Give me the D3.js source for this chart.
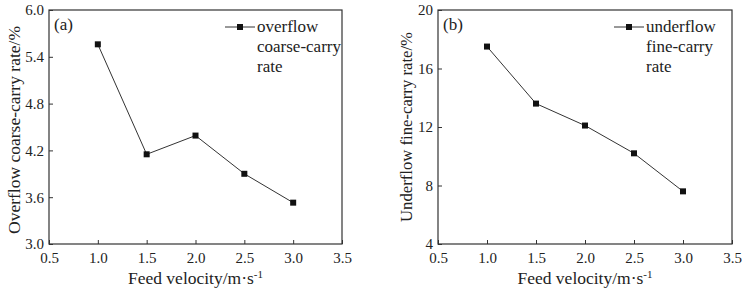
<!DOCTYPE html>
<html>
<head>
<meta charset="utf-8">
<script src="https://cdn.jsdelivr.net/npm/d3@7"></script>
<style>
  body { margin: 0; background: #fff; }
  svg, svg text { font-family: "Liberation Serif", "Times New Roman", serif !important; }
</style>
</head>
<body>
<div id="chart"></div>
<script>
// feed velocity (m/s)
const velocity = [1.0, 1.5, 2.0, 2.5, 3.0];
// panel (a): overflow coarse-carry rate, %
const overflowCoarse = [5.56, 4.15, 4.39, 3.90, 3.53];
// panel (b): underflow fine-carry rate, %
const underflowFine = [17.5, 13.6, 12.1, 10.2, 7.6];

const xTicks = [0.5, 1.0, 1.5, 2.0, 2.5, 3.0, 3.5];
const yTicksA = [3.0, 3.6, 4.2, 4.8, 5.4, 6.0];
const yTicksB = [4, 8, 12, 16, 20];

const W = 742, H = 292;
const svg = d3.select("#chart").append("svg")
  .attr("width", W).attr("height", H);

function panel(opt) {
  let x = d3.scaleLinear().domain([0.5, 3.5]).range([opt.left, opt.right]);
  let y = d3.scaleLinear().domain(opt.yDomain).range([244, 10]);
  const g = svg.append("g");

  g.append("g")
    .attr("transform", `translate(0,${y.range()[0]})`)
    .call(d3.axisBottom(x).tickValues(xTicks).tickFormat(d3.format(".1f")).tickSizeInner(-4).tickSizeOuter(0).tickPadding(8))
    .call(a => a.select(".domain").remove());
  g.append("g")
    .attr("transform", `translate(${opt.left},0)`)
    .call(d3.axisLeft(y).tickValues(opt.yTicks).tickFormat(opt.fmt).tickSizeInner(-4).tickSizeOuter(0).tickPadding(5))
    .call(a => a.select(".domain").remove());

  g.selectAll(".tick text").attr("font-size", 15).attr("fill", "#222");
  g.selectAll(".tick line").attr("stroke", "#333");

  // frame
  g.append("rect")
    .attr("x", opt.left).attr("y", 10)
    .attr("width", opt.right - opt.left).attr("height", 234)
    .attr("fill", "none").attr("stroke", "#333").attr("stroke-width", 1.2);

  const line = d3.line().x((d, i) => x(velocity[i])).y(d => y(d));
  g.append("path").datum(opt.values)
    .attr("d", line).attr("fill", "none").attr("stroke", "#333").attr("stroke-width", 1);
  g.selectAll(".pt").data(opt.values).join("rect")
    .attr("x", (d, i) => x(velocity[i]) - 3).attr("y", d => y(d) - 3)
    .attr("width", 6).attr("height", 6).attr("fill", "#111");

  // panel label
  g.append("text").attr("x", opt.left + 5).attr("y", 30)
    .attr("font-size", 17).attr("fill", "#222").text(opt.tag);

  // legend
  const lx = opt.legendX;
  g.append("line").attr("x1", lx).attr("x2", lx + 30).attr("y1", 27).attr("y2", 27)
    .attr("stroke", "#333").attr("stroke-width", 1);
  g.append("rect").attr("x", lx + 12).attr("y", 24).attr("width", 6).attr("height", 6).attr("fill", "#111");
  const lt = g.append("text").attr("x", lx + 32).attr("y", 32).attr("font-size", 17).attr("fill", "#222");
  opt.legend.forEach((s, i) => lt.append("tspan").attr("x", lx + 32).attr("dy", i ? 20 : 0).text(s));

  // axis titles
  const xt = g.append("text").attr("x", (opt.left + opt.right) / 2).attr("y", 284)
    .attr("text-anchor", "middle").attr("font-size", 17.5).attr("fill", "#222").text("Feed velocity/m·s");
  xt.append("tspan").attr("dy", -6).attr("font-size", 11).text("-1");
  g.append("text")
    .attr("transform", `translate(${opt.titleX},${opt.titleY}) rotate(-90)`)
    .attr("text-anchor", "middle").attr("font-size", opt.titleSize).attr("fill", "#222").text(opt.yTitle);
}

panel({
  left: 49, right: 342, yDomain: [3.0, 6.0], yTicks: yTicksA, fmt: d3.format(".1f"),
  values: overflowCoarse, tag: "(a)", legendX: 225,
  legend: ["overflow", "coarse-carry", "rate"], titleX: 20, titleY: 130, titleSize: 17.5,
  yTitle: "Overflow coarse-carry rate/%"
});
panel({
  left: 438, right: 732, yDomain: [4, 20], yTicks: yTicksB, fmt: d3.format("d"),
  values: underflowFine, tag: "(b)", legendX: 614,
  legend: ["underflow", "fine-carry", "rate"], titleX: 412, titleY: 127, titleSize: 16.7,
  yTitle: "Underflow fine-carry rate/%"
});
</script>
</body>
</html>
